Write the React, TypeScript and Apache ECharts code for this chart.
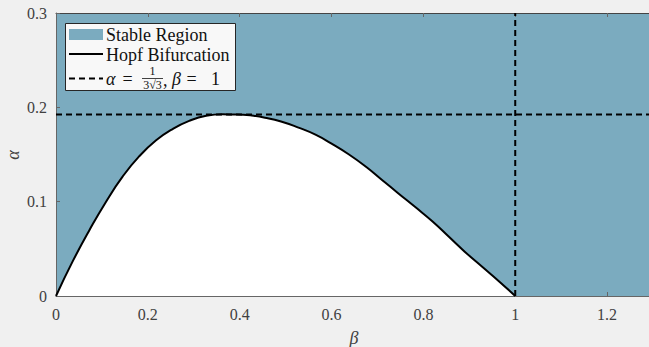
import React, { useEffect, useRef } from "react";
import * as echarts from "echarts";

// Hopf bifurcation curve (beta, alpha)
const betaValues = [0, 0.036, 0.073, 0.109, 0.145, 0.181, 0.218, 0.254, 0.29, 0.327, 0.363, 0.385, 0.407, 0.423, 0.455, 0.49, 0.528, 0.565, 0.6, 0.638, 0.675, 0.71, 0.745, 0.783, 0.82, 0.855, 0.89, 0.928, 0.965, 1.0];
const alphaValues = [0, 0.0364, 0.07, 0.1, 0.1265, 0.148, 0.165, 0.177, 0.1856, 0.191, 0.1926, 0.19245, 0.1922, 0.1915, 0.189, 0.185, 0.1785, 0.171, 0.1615, 0.15, 0.137, 0.123, 0.109, 0.094, 0.079, 0.063, 0.047, 0.031, 0.0155, 0];

const alphaCrit = 0.19245; // 1/(3*sqrt(3))
const betaCrit = 1;
const xTicks = [0, 0.2, 0.4, 0.6, 0.8, 1, 1.2];
const yTicks = [0, 0.1, 0.2, 0.3];
const legendLabels = ["Stable Region", "Hopf Bifurcation"];
const xName = "β";
const yName = "α";

const FILL = "#7BABBF";
const SERIF = "Liberation Serif";

export default function App() {
  const ref = useRef<HTMLDivElement>(null);
  useEffect(() => {
    if (!ref.current) return;
    const chart = echarts.init(ref.current, null, { renderer: "svg" });
    const curve = betaValues.map((b, i) => [b, alphaValues[i]]);
    const fmt = (v: number) => String(Math.round(v * 10) / 10);
    const axisLineStyle = { color: "#666", width: 1 };
    const lx = 106;
    const txt = (text: string, x: number, y: number, size: number, extra: any = {}) => ({
      type: "text",
      x,
      y,
      z: 11,
      style: {
        text,
        fontFamily: SERIF,
        fontSize: size,
        fill: "#111",
        verticalAlign: "middle",
        ...extra,
      },
    });
    chart.setOption({
      animation: false,
      backgroundColor: "#f0f0f0",
      grid: {
        left: 56,
        top: 13,
        width: 597,
        height: 283,
        show: true,
        backgroundColor: FILL,
        borderWidth: 0,
        containLabel: false,
        outerBoundsMode: "none",
      },
      xAxis: [
        {
          type: "value",
          min: 0,
          max: 1.3,
          interval: 0.2,
          position: "bottom",
          axisLine: { show: true, onZero: false, lineStyle: axisLineStyle },
          axisTick: { show: true, inside: true, length: 4, lineStyle: axisLineStyle },
          splitLine: { show: false },
          axisLabel: {
            margin: 10,
            fontFamily: SERIF,
            fontSize: 16,
            color: "#404040",
            formatter: (v: number) => (xTicks.some((t) => Math.abs(t - v) < 1e-9) ? fmt(v) : ""),
          },
        },
        {
          type: "value",
          min: 0,
          max: 1.3,
          interval: 0.2,
          position: "top",
          axisLine: { show: true, onZero: false, lineStyle: { color: "#444", width: 1 } },
          axisTick: { show: true, inside: true, length: 4, lineStyle: axisLineStyle },
          splitLine: { show: false },
          axisLabel: { show: false },
        },
      ],
      yAxis: {
        type: "value",
        min: 0,
        max: 0.3,
        interval: 0.1,
        axisLine: { show: true, onZero: false, lineStyle: axisLineStyle },
        axisTick: { show: true, inside: true, length: 4, lineStyle: axisLineStyle },
        splitLine: { show: false },
        axisLabel: {
          margin: 9,
          fontFamily: SERIF,
          fontSize: 16,
          color: "#404040",
          formatter: (v: number) => (yTicks.some((t) => Math.abs(t - v) < 1e-9) ? fmt(v) : ""),
        },
      },
      series: [
        {
          name: legendLabels[1],
          type: "line",
          data: curve,
          smooth: 0.5,
          showSymbol: false,
          symbol: "none",
          lineStyle: { color: "#000", width: 2 },
          areaStyle: { color: "#ffffff", opacity: 1, origin: "start" },
          z: 2,
        },
        {
          type: "line",
          data: [[0, alphaCrit], [1.3, alphaCrit]],
          showSymbol: false,
          symbol: "none",
          lineStyle: { color: "#000", width: 2, type: [6, 4] },
          z: 3,
        },
        {
          type: "line",
          data: [[betaCrit, 0], [betaCrit, 0.3]],
          showSymbol: false,
          symbol: "none",
          lineStyle: { color: "#000", width: 2, type: [6, 4] },
          z: 3,
        },
      ],
      graphic: [
        txt(xName, 354, 338, 18, { fontStyle: "italic", align: "center", fill: "#404040" }),
        {
          ...txt(yName, 0, 0, 18, { fontStyle: "italic", align: "center", fill: "#404040" }),
          x: 13,
          y: 155,
          rotation: Math.PI / 2,
        },
        {
          type: "rect",
          shape: { x: 65.5, y: 23.5, width: 170, height: 67 },
          style: { fill: "#f8f8f8", stroke: "#262626", lineWidth: 1 },
          z: 10,
        },
        {
          type: "rect",
          shape: { x: 69, y: 29, width: 34, height: 11 },
          style: { fill: FILL },
          z: 11,
        },
        txt(legendLabels[0], lx, 35, 18),
        {
          type: "line",
          shape: { x1: 69, y1: 54, x2: 103, y2: 54 },
          style: { stroke: "#000", lineWidth: 2 },
          z: 11,
        },
        txt(legendLabels[1], lx, 55, 18),
        {
          type: "line",
          shape: { x1: 69, y1: 78.5, x2: 103, y2: 78.5 },
          style: { stroke: "#000", lineWidth: 2, lineDash: [6, 4] },
          z: 11,
        },
        txt("α", lx, 79, 18, { fontStyle: "italic" }),
        txt("=", 122.5, 79, 18),
        txt("1", 152.5, 71, 12, { align: "center" }),
        {
          type: "line",
          shape: { x1: 142, y1: 78.5, x2: 163, y2: 78.5 },
          style: { stroke: "#111", lineWidth: 0.8 },
          z: 11,
        },
        txt("3√3", 152.5, 85, 12, { align: "center" }),
        txt(",", 163, 80, 18),
        txt("β", 172, 79, 18, { fontStyle: "italic" }),
        txt("=", 186.5, 79, 18),
        txt("1", 211, 79, 18),
      ],
    });
    return () => chart.dispose();
  }, []);
  return (
    <div
      ref={ref}
      style={{ position: "fixed", left: 0, top: 0, width: 649, height: 347, background: "#f0f0f0" }}
    />
  );
}
